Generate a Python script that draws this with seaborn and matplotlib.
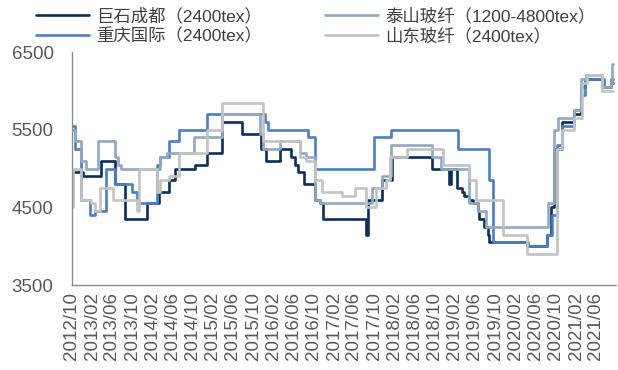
import pandas as pd
import matplotlib
matplotlib.use("Agg")
import matplotlib.pyplot as plt
import matplotlib.dates as mdates
import seaborn as sns

sns.set_style("white")
plt.rcParams['font.family'] = ['Liberation Sans', 'Noto Sans CJK SC', 'DejaVu Sans']

# change points of each price series (step lines)
jushi_dates = ["2012-10-01", "2012-12-10", "2013-03-28", "2013-06-18", "2013-08-18", "2013-12-28",
               "2014-03-10", "2014-05-10", "2014-06-18", "2014-10-18", "2014-12-28", "2015-03-28",
               "2015-07-28", "2015-11-18", "2015-12-18", "2016-03-10", "2016-05-18", "2016-06-10",
               "2016-07-01", "2016-08-01", "2016-10-10", "2016-11-10", "2016-11-28", "2017-08-10",
               "2017-08-25", "2017-11-15", "2018-01-18", "2018-09-18", "2018-12-25", "2019-01-06",
               "2019-02-12", "2019-03-18", "2019-03-28", "2019-04-28", "2019-05-18", "2019-06-18",
               "2019-06-28", "2019-07-28", "2019-08-18", "2019-08-28", "2020-04-10", "2020-08-10",
               "2020-09-01", "2020-09-18", "2020-11-10", "2021-01-18", "2021-02-28", "2021-03-28",
               "2021-07-10", "2021-09-01", "2021-09-10"]
jushi_vals = [4950, 4900, 5100, 4800, 4350, 4550,
              4700, 4850, 5000, 5050, 5200, 5600,
              5450, 5250, 5100, 5250, 5150, 5050,
              4950, 4800, 4600, 4550, 4350, 4150,
              4600, 4850, 5150, 5000, 4800, 5000,
              4750, 4700, 4650, 4600, 4550, 4450,
              4350, 4250, 4150, 4050, 4000, 4150,
              4500, 5250, 5600, 5700, 6050, 6150,
              6050, 6100, 6100]

cq_dates = ["2012-10-01", "2012-10-18", "2012-11-28", "2013-01-18", "2013-02-18", "2013-04-28",
            "2013-06-18", "2013-09-28", "2013-10-28", "2014-02-28", "2014-03-18", "2014-05-10",
            "2014-07-10", "2014-12-28", "2015-12-10", "2015-12-28", "2016-08-28", "2016-10-10",
            "2017-09-28", "2018-01-10", "2019-02-18", "2019-08-28", "2019-09-18", "2020-04-18",
            "2020-08-10", "2020-09-06", "2020-10-10", "2020-11-10", "2021-01-18", "2021-02-28",
            "2021-03-28", "2021-07-18", "2021-09-01", "2021-09-10"]
cq_vals = [5550, 5250, 4600, 4400, 4450, 5000,
           4800, 4700, 4550, 5050, 5150, 5350,
           5500, 5700, 5600, 5500, 5400, 5000,
           5400, 5500, 5250, 4850, 4050, 4000,
           4150, 4400, 5300, 5550, 5750, 5950,
           6150, 6050, 6150, 6150]

ts_dates = ["2012-10-01", "2012-10-18", "2012-11-28", "2012-12-28", "2013-03-10", "2013-06-18",
            "2013-07-10", "2013-07-28", "2014-03-18", "2014-05-01", "2014-10-10", "2015-03-28",
            "2015-11-10", "2015-12-01", "2016-03-10", "2016-07-10", "2016-08-18", "2016-10-10",
            "2016-11-10", "2017-09-18", "2017-11-20", "2018-01-10", "2018-09-18", "2018-11-10",
            "2019-04-28", "2019-06-18", "2019-08-10", "2020-08-18", "2020-09-18", "2020-10-18",
            "2021-01-18", "2021-02-28", "2021-04-01", "2021-07-10", "2021-09-01", "2021-09-05",
            "2021-09-12"]
ts_vals = [5500, 5350, 5100, 5000, 5350, 5150,
           5050, 5000, 5150, 5200, 5400, 5700,
           5450, 5250, 5350, 5200, 5150, 4600,
           4550, 4750, 4900, 5300, 5150, 5000,
           4550, 4450, 4250, 4550, 5500, 5650,
           5750, 6150, 6200, 6050, 6100, 6350,
           6350]

sd_dates = ["2012-10-01", "2012-10-10", "2012-11-28", "2013-01-28", "2013-02-18", "2013-03-18",
            "2013-06-10", "2013-10-28", "2013-11-10", "2014-02-28", "2014-03-18", "2014-05-10",
            "2014-07-10", "2014-12-28", "2015-03-28", "2015-11-28", "2016-07-10", "2016-08-18",
            "2016-10-10", "2016-11-18", "2017-03-18", "2017-06-10", "2017-08-10", "2017-10-10",
            "2017-12-10", "2018-01-05", "2018-04-18", "2018-11-18", "2019-04-28", "2019-06-10",
            "2019-11-18", "2020-04-10", "2020-10-10", "2020-11-10", "2021-01-18", "2021-03-10",
            "2021-04-10", "2021-07-10", "2021-09-10"]
sd_vals = [4500, 5000, 4600, 4550, 4450, 4750,
           4600, 4450, 5000, 4700, 4850, 4900,
           5200, 5500, 5850, 5350, 5150, 5100,
           4850, 4700, 4650, 4750, 4500, 4750,
           4850, 5150, 5250, 5050, 4850, 4600,
           4150, 3900, 5250, 5500, 5650, 6100,
           6200, 6000, 6000]

series = [
    ("巨石成都（2400tex）", jushi_dates, jushi_vals, "#0c2d5e"),
    ("重庆国际（2400tex）", cq_dates, cq_vals, "#4a7fc1"),
    ("泰山玻纤（1200-4800tex）", ts_dates, ts_vals, "#8fa9c3"),
    ("山东玻纤（2400tex）", sd_dates, sd_vals, "#c3c3c3"),
]

fig = plt.figure(figsize=(6.18, 3.7), dpi=100)
ax = fig.add_axes([0.116, 0.2297, 0.8807, 0.6297])

for name, d, v, c in series:
    df = pd.DataFrame({"date": pd.to_datetime(d), "price": v})
    sns.lineplot(data=df, x="date", y="price", ax=ax, color=c, linewidth=1.9,
                 drawstyle="steps-post", label=name)

ax.get_legend().remove()

ax.set_xlim(pd.Timestamp("2012-10-01"), pd.Timestamp("2021-09-30"))
ax.set_ylim(3500, 6500)
ax.set_yticks([3500, 4500, 5500, 6500])
ax.xaxis.set_major_locator(mdates.MonthLocator(bymonth=(2, 6, 10)))
ax.xaxis.set_major_formatter(mdates.DateFormatter("%Y/%m"))
ax.set_xlabel("")
ax.set_ylabel("")

for s in ["top", "right"]:
    ax.spines[s].set_visible(False)
for s in ["left", "bottom"]:
    ax.spines[s].set_color("#8c8c8c")
    ax.spines[s].set_linewidth(1.0)

ax.tick_params(axis="x", rotation=90, labelsize=13.5, labelcolor="#595959", length=4,
               width=0.8, direction="out", pad=1, color="#8c8c8c")
ax.tick_params(axis="y", labelsize=13.5, labelcolor="#595959", length=0, pad=13)

handles, labels = ax.get_legend_handles_labels()
fig.legend(handles, labels,
           loc="upper left", bbox_to_anchor=(0.038, 1.012), ncol=2, frameon=False,
           fontsize=12.5, handlelength=3.05, handletextpad=0.45, columnspacing=3.6,
           labelspacing=0.2, borderpad=0.2, labelcolor="#404040")

fig.savefig("out.png", dpi=100)
